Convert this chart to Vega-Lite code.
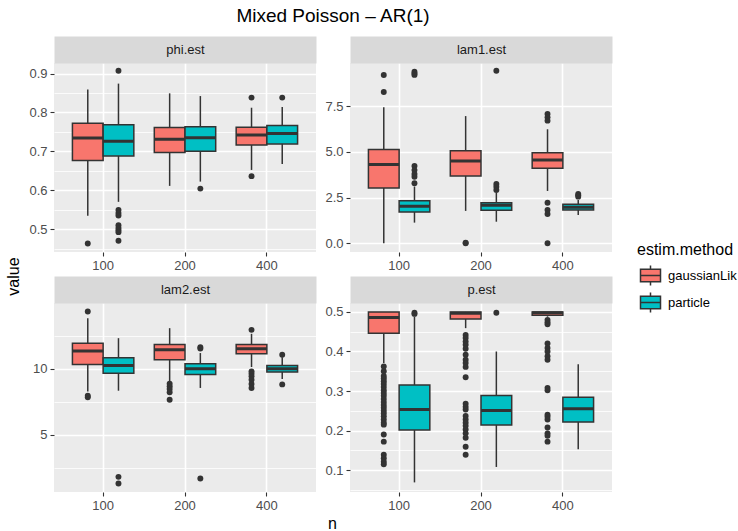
{
  "$schema": "https://vega.github.io/schema/vega-lite/v6.json",
  "padding": {"left": 5, "top": 6, "right": 0, "bottom": 0},
  "title": {"text": "Mixed Poisson – AR(1)", "anchor": "start", "frame": "group", "align": "center", "dx": 279, "fontSize": 19, "fontWeight": "normal", "color": "#000000", "offset": 3, "baseline": "alphabetic"},
  "datasets": {
    "boxes": [
      {"panel": "phi.est", "n": "100", "method": "gaussianLik", "lower": 0.534, "q1": 0.676, "median": 0.734, "q3": 0.772, "upper": 0.859},
      {"panel": "phi.est", "n": "100", "method": "particle", "lower": 0.570, "q1": 0.688, "median": 0.726, "q3": 0.768, "upper": 0.874},
      {"panel": "phi.est", "n": "200", "method": "gaussianLik", "lower": 0.611, "q1": 0.697, "median": 0.731, "q3": 0.761, "upper": 0.849},
      {"panel": "phi.est", "n": "200", "method": "particle", "lower": 0.622, "q1": 0.700, "median": 0.735, "q3": 0.763, "upper": 0.842},
      {"panel": "phi.est", "n": "400", "method": "gaussianLik", "lower": 0.652, "q1": 0.716, "median": 0.742, "q3": 0.762, "upper": 0.812},
      {"panel": "phi.est", "n": "400", "method": "particle", "lower": 0.667, "q1": 0.719, "median": 0.746, "q3": 0.766, "upper": 0.814},
      {"panel": "lam1.est", "n": "100", "method": "gaussianLik", "lower": 0.0, "q1": 3.02, "median": 4.30, "q3": 5.13, "upper": 7.43},
      {"panel": "lam1.est", "n": "100", "method": "particle", "lower": 1.13, "q1": 1.71, "median": 2.02, "q3": 2.33, "upper": 3.1},
      {"panel": "lam1.est", "n": "200", "method": "gaussianLik", "lower": 1.77, "q1": 3.68, "median": 4.50, "q3": 5.06, "upper": 6.95},
      {"panel": "lam1.est", "n": "200", "method": "particle", "lower": 1.18, "q1": 1.80, "median": 2.08, "q3": 2.22, "upper": 2.75},
      {"panel": "lam1.est", "n": "400", "method": "gaussianLik", "lower": 2.86, "q1": 4.10, "median": 4.55, "q3": 4.95, "upper": 6.23},
      {"panel": "lam1.est", "n": "400", "method": "particle", "lower": 1.55, "q1": 1.82, "median": 1.97, "q3": 2.13, "upper": 2.37},
      {"panel": "lam2.est", "n": "100", "method": "gaussianLik", "lower": 8.28, "q1": 10.33, "median": 11.34, "q3": 11.94, "upper": 13.84},
      {"panel": "lam2.est", "n": "100", "method": "particle", "lower": 8.33, "q1": 9.65, "median": 10.25, "q3": 10.83, "upper": 12.32},
      {"panel": "lam2.est", "n": "200", "method": "gaussianLik", "lower": 9.04, "q1": 10.68, "median": 11.44, "q3": 11.84, "upper": 13.08},
      {"panel": "lam2.est", "n": "200", "method": "particle", "lower": 8.54, "q1": 9.57, "median": 10.0, "q3": 10.38, "upper": 11.19},
      {"panel": "lam2.est", "n": "400", "method": "gaussianLik", "lower": 10.13, "q1": 11.14, "median": 11.52, "q3": 11.84, "upper": 12.65},
      {"panel": "lam2.est", "n": "400", "method": "particle", "lower": 9.22, "q1": 9.75, "median": 10.0, "q3": 10.25, "upper": 10.88},
      {"panel": "p.est", "n": "100", "method": "gaussianLik", "lower": 0.371, "q1": 0.446, "median": 0.486, "q3": 0.5, "upper": 0.5},
      {"panel": "p.est", "n": "100", "method": "particle", "lower": 0.069, "q1": 0.2015, "median": 0.253, "q3": 0.3155, "upper": 0.488},
      {"panel": "p.est", "n": "200", "method": "gaussianLik", "lower": 0.459, "q1": 0.482, "median": 0.4966, "q3": 0.5, "upper": 0.5},
      {"panel": "p.est", "n": "200", "method": "particle", "lower": 0.108, "q1": 0.214, "median": 0.251, "q3": 0.289, "upper": 0.400},
      {"panel": "p.est", "n": "400", "method": "gaussianLik", "lower": 0.488, "q1": 0.4916, "median": 0.498, "q3": 0.5, "upper": 0.5},
      {"panel": "p.est", "n": "400", "method": "particle", "lower": 0.153, "q1": 0.2216, "median": 0.255, "q3": 0.2845, "upper": 0.368}
    ],
    "outliers": [
      {"panel": "phi.est", "n": "100", "method": "gaussianLik", "value": 0.463},
      {"panel": "phi.est", "n": "100", "method": "particle", "value": 0.907},
      {"panel": "phi.est", "n": "100", "method": "particle", "value": 0.549},
      {"panel": "phi.est", "n": "100", "method": "particle", "value": 0.541},
      {"panel": "phi.est", "n": "100", "method": "particle", "value": 0.535},
      {"panel": "phi.est", "n": "100", "method": "particle", "value": 0.510},
      {"panel": "phi.est", "n": "100", "method": "particle", "value": 0.503},
      {"panel": "phi.est", "n": "100", "method": "particle", "value": 0.497},
      {"panel": "phi.est", "n": "100", "method": "particle", "value": 0.492},
      {"panel": "phi.est", "n": "100", "method": "particle", "value": 0.470},
      {"panel": "phi.est", "n": "200", "method": "particle", "value": 0.604},
      {"panel": "phi.est", "n": "400", "method": "gaussianLik", "value": 0.838},
      {"panel": "phi.est", "n": "400", "method": "gaussianLik", "value": 0.636},
      {"panel": "phi.est", "n": "400", "method": "particle", "value": 0.838},
      {"panel": "lam1.est", "n": "100", "method": "gaussianLik", "value": 9.19},
      {"panel": "lam1.est", "n": "100", "method": "gaussianLik", "value": 8.27},
      {"panel": "lam1.est", "n": "100", "method": "particle", "value": 9.37},
      {"panel": "lam1.est", "n": "100", "method": "particle", "value": 9.28},
      {"panel": "lam1.est", "n": "100", "method": "particle", "value": 9.20},
      {"panel": "lam1.est", "n": "100", "method": "particle", "value": 4.22},
      {"panel": "lam1.est", "n": "100", "method": "particle", "value": 4.0},
      {"panel": "lam1.est", "n": "100", "method": "particle", "value": 3.79},
      {"panel": "lam1.est", "n": "100", "method": "particle", "value": 3.64},
      {"panel": "lam1.est", "n": "100", "method": "particle", "value": 3.28},
      {"panel": "lam1.est", "n": "200", "method": "gaussianLik", "value": 0.0},
      {"panel": "lam1.est", "n": "200", "method": "gaussianLik", "value": 0.03},
      {"panel": "lam1.est", "n": "200", "method": "particle", "value": 9.43},
      {"panel": "lam1.est", "n": "200", "method": "particle", "value": 3.24},
      {"panel": "lam1.est", "n": "200", "method": "particle", "value": 3.09},
      {"panel": "lam1.est", "n": "200", "method": "particle", "value": 2.91},
      {"panel": "lam1.est", "n": "400", "method": "gaussianLik", "value": 7.06},
      {"panel": "lam1.est", "n": "400", "method": "gaussianLik", "value": 6.88},
      {"panel": "lam1.est", "n": "400", "method": "gaussianLik", "value": 6.70},
      {"panel": "lam1.est", "n": "400", "method": "gaussianLik", "value": 2.22},
      {"panel": "lam1.est", "n": "400", "method": "gaussianLik", "value": 1.82},
      {"panel": "lam1.est", "n": "400", "method": "gaussianLik", "value": 1.60},
      {"panel": "lam1.est", "n": "400", "method": "gaussianLik", "value": 0.0},
      {"panel": "lam1.est", "n": "400", "method": "particle", "value": 2.69},
      {"panel": "lam1.est", "n": "400", "method": "particle", "value": 2.62},
      {"panel": "lam1.est", "n": "400", "method": "particle", "value": 2.55},
      {"panel": "lam2.est", "n": "100", "method": "gaussianLik", "value": 14.34},
      {"panel": "lam2.est", "n": "100", "method": "gaussianLik", "value": 7.95},
      {"panel": "lam2.est", "n": "100", "method": "gaussianLik", "value": 7.83},
      {"panel": "lam2.est", "n": "100", "method": "particle", "value": 1.79},
      {"panel": "lam2.est", "n": "100", "method": "particle", "value": 1.29},
      {"panel": "lam2.est", "n": "200", "method": "gaussianLik", "value": 8.86},
      {"panel": "lam2.est", "n": "200", "method": "gaussianLik", "value": 8.66},
      {"panel": "lam2.est", "n": "200", "method": "gaussianLik", "value": 8.46},
      {"panel": "lam2.est", "n": "200", "method": "gaussianLik", "value": 8.21},
      {"panel": "lam2.est", "n": "200", "method": "gaussianLik", "value": 7.65},
      {"panel": "lam2.est", "n": "200", "method": "particle", "value": 11.64},
      {"panel": "lam2.est", "n": "200", "method": "particle", "value": 11.54},
      {"panel": "lam2.est", "n": "200", "method": "particle", "value": 1.67},
      {"panel": "lam2.est", "n": "400", "method": "gaussianLik", "value": 12.95},
      {"panel": "lam2.est", "n": "400", "method": "gaussianLik", "value": 9.80},
      {"panel": "lam2.est", "n": "400", "method": "gaussianLik", "value": 9.62},
      {"panel": "lam2.est", "n": "400", "method": "gaussianLik", "value": 9.42},
      {"panel": "lam2.est", "n": "400", "method": "gaussianLik", "value": 9.17},
      {"panel": "lam2.est", "n": "400", "method": "gaussianLik", "value": 8.84},
      {"panel": "lam2.est", "n": "400", "method": "gaussianLik", "value": 8.54},
      {"panel": "lam2.est", "n": "400", "method": "particle", "value": 11.06},
      {"panel": "lam2.est", "n": "400", "method": "particle", "value": 8.81},
      {"panel": "p.est", "n": "100", "method": "gaussianLik", "value": 0.362},
      {"panel": "p.est", "n": "100", "method": "gaussianLik", "value": 0.350},
      {"panel": "p.est", "n": "100", "method": "gaussianLik", "value": 0.338},
      {"panel": "p.est", "n": "100", "method": "gaussianLik", "value": 0.332},
      {"panel": "p.est", "n": "100", "method": "gaussianLik", "value": 0.325},
      {"panel": "p.est", "n": "100", "method": "gaussianLik", "value": 0.318},
      {"panel": "p.est", "n": "100", "method": "gaussianLik", "value": 0.310},
      {"panel": "p.est", "n": "100", "method": "gaussianLik", "value": 0.302},
      {"panel": "p.est", "n": "100", "method": "gaussianLik", "value": 0.295},
      {"panel": "p.est", "n": "100", "method": "gaussianLik", "value": 0.288},
      {"panel": "p.est", "n": "100", "method": "gaussianLik", "value": 0.280},
      {"panel": "p.est", "n": "100", "method": "gaussianLik", "value": 0.272},
      {"panel": "p.est", "n": "100", "method": "gaussianLik", "value": 0.265},
      {"panel": "p.est", "n": "100", "method": "gaussianLik", "value": 0.258},
      {"panel": "p.est", "n": "100", "method": "gaussianLik", "value": 0.250},
      {"panel": "p.est", "n": "100", "method": "gaussianLik", "value": 0.243},
      {"panel": "p.est", "n": "100", "method": "gaussianLik", "value": 0.236},
      {"panel": "p.est", "n": "100", "method": "gaussianLik", "value": 0.228},
      {"panel": "p.est", "n": "100", "method": "gaussianLik", "value": 0.220},
      {"panel": "p.est", "n": "100", "method": "gaussianLik", "value": 0.215},
      {"panel": "p.est", "n": "100", "method": "gaussianLik", "value": 0.190},
      {"panel": "p.est", "n": "100", "method": "gaussianLik", "value": 0.172},
      {"panel": "p.est", "n": "100", "method": "gaussianLik", "value": 0.139},
      {"panel": "p.est", "n": "100", "method": "gaussianLik", "value": 0.130},
      {"panel": "p.est", "n": "100", "method": "gaussianLik", "value": 0.121},
      {"panel": "p.est", "n": "100", "method": "gaussianLik", "value": 0.115},
      {"panel": "p.est", "n": "100", "method": "particle", "value": 0.498},
      {"panel": "p.est", "n": "100", "method": "particle", "value": 0.495},
      {"panel": "p.est", "n": "200", "method": "gaussianLik", "value": 0.442},
      {"panel": "p.est", "n": "200", "method": "gaussianLik", "value": 0.434},
      {"panel": "p.est", "n": "200", "method": "gaussianLik", "value": 0.425},
      {"panel": "p.est", "n": "200", "method": "gaussianLik", "value": 0.417},
      {"panel": "p.est", "n": "200", "method": "gaussianLik", "value": 0.407},
      {"panel": "p.est", "n": "200", "method": "gaussianLik", "value": 0.392},
      {"panel": "p.est", "n": "200", "method": "gaussianLik", "value": 0.379},
      {"panel": "p.est", "n": "200", "method": "gaussianLik", "value": 0.371},
      {"panel": "p.est", "n": "200", "method": "gaussianLik", "value": 0.361},
      {"panel": "p.est", "n": "200", "method": "gaussianLik", "value": 0.335},
      {"panel": "p.est", "n": "200", "method": "gaussianLik", "value": 0.268},
      {"panel": "p.est", "n": "200", "method": "gaussianLik", "value": 0.260},
      {"panel": "p.est", "n": "200", "method": "gaussianLik", "value": 0.2535},
      {"panel": "p.est", "n": "200", "method": "gaussianLik", "value": 0.237},
      {"panel": "p.est", "n": "200", "method": "gaussianLik", "value": 0.228},
      {"panel": "p.est", "n": "200", "method": "gaussianLik", "value": 0.220},
      {"panel": "p.est", "n": "200", "method": "gaussianLik", "value": 0.212},
      {"panel": "p.est", "n": "200", "method": "gaussianLik", "value": 0.203},
      {"panel": "p.est", "n": "200", "method": "gaussianLik", "value": 0.193},
      {"panel": "p.est", "n": "200", "method": "gaussianLik", "value": 0.182},
      {"panel": "p.est", "n": "200", "method": "gaussianLik", "value": 0.159},
      {"panel": "p.est", "n": "200", "method": "gaussianLik", "value": 0.139},
      {"panel": "p.est", "n": "200", "method": "particle", "value": 0.498},
      {"panel": "p.est", "n": "400", "method": "gaussianLik", "value": 0.480},
      {"panel": "p.est", "n": "400", "method": "gaussianLik", "value": 0.474},
      {"panel": "p.est", "n": "400", "method": "gaussianLik", "value": 0.469},
      {"panel": "p.est", "n": "400", "method": "gaussianLik", "value": 0.420},
      {"panel": "p.est", "n": "400", "method": "gaussianLik", "value": 0.409},
      {"panel": "p.est", "n": "400", "method": "gaussianLik", "value": 0.400},
      {"panel": "p.est", "n": "400", "method": "gaussianLik", "value": 0.388},
      {"panel": "p.est", "n": "400", "method": "gaussianLik", "value": 0.379},
      {"panel": "p.est", "n": "400", "method": "gaussianLik", "value": 0.308},
      {"panel": "p.est", "n": "400", "method": "gaussianLik", "value": 0.302},
      {"panel": "p.est", "n": "400", "method": "gaussianLik", "value": 0.240},
      {"panel": "p.est", "n": "400", "method": "gaussianLik", "value": 0.235},
      {"panel": "p.est", "n": "400", "method": "gaussianLik", "value": 0.228},
      {"panel": "p.est", "n": "400", "method": "gaussianLik", "value": 0.208},
      {"panel": "p.est", "n": "400", "method": "gaussianLik", "value": 0.193},
      {"panel": "p.est", "n": "400", "method": "gaussianLik", "value": 0.187},
      {"panel": "p.est", "n": "400", "method": "gaussianLik", "value": 0.172}
    ]
  },
  "columns": 2,
  "spacing": {"row": 51, "column": 34},
  "bounds": "flush",
  "concat": [
    {
      "width": 262, "height": 189,
      "resolve": {"axis": {"x": "independent", "y": "independent"}},
      "layer": [
        {"data": {"name": "boxes"}, "transform": [{"filter": "datum.panel == 'phi.est'"}],
         "mark": {"type": "rule", "color": "#333333", "strokeWidth": 1.5},
         "encoding": {
           "x": {"field": "n", "type": "nominal", "scale": {"domain": ["100", "200", "400"], "paddingInner": 0.25, "paddingOuter": 0.225},
                 "axis": {"orient": "top", "grid": false, "ticks": false, "labels": false, "domain": true, "domainColor": "#D9D9D9", "domainWidth": 27, "offset": 13.5, "title": "phi.est", "titleFontSize": 13, "titleColor": "#1A1A1A", "titleBaseline": "middle", "titleY": 0, "titleX": 131}},
           "xOffset": {"field": "method", "type": "nominal", "scale": {"domain": ["gaussianLik", "particle"], "paddingInner": 0, "paddingOuter": 0}},
           "y": {"field": "lower", "type": "quantitative", "scale": {"domain": [0.441, 0.927], "nice": false, "zero": false},
                 "axis": {"orient": "left", "title": null, "grid": true, "gridWidth": 1.6, "values": [0.5, 0.6, 0.7, 0.8, 0.9], "format": ".1f"}},
           "y2": {"field": "upper"}
         }},
        {"data": {"name": "boxes"}, "transform": [{"filter": "datum.panel == 'phi.est'"}],
         "mark": {"type": "bar", "stroke": "#333333", "strokeWidth": 1.5},
         "encoding": {
           "x": {"field": "n", "type": "nominal", "axis": {"orient": "bottom", "title": null, "grid": true, "bandPosition": 0.5, "labelAngle": 0}},
           "xOffset": {"field": "method", "type": "nominal"},
           "y": {"field": "q1", "type": "quantitative",
                 "axis": {"orient": "left", "title": null, "grid": true, "gridWidth": 0.8, "labels": false, "ticks": false, "values": [0.45, 0.55, 0.65, 0.75, 0.85]}},
           "y2": {"field": "q3"},
           "color": {"field": "method", "type": "nominal", "scale": {"domain": ["gaussianLik", "particle"], "range": ["#F8766D", "#00BFC4"]},
                     "legend": {"title": "estim.method", "orient": "none", "legendX": 583, "legendY": 179,
                                "symbolType": "M-0.8,-0.5H0.8V0.5H-0.8Z M0,-0.8V-0.5 M0,0.5V0.8 M-0.8,0H0.8",
                                "symbolSize": 625, "symbolStrokeColor": "#333333", "symbolStrokeWidth": 1.5, "symbolOpacity": 1}}
         }},
        {"data": {"name": "boxes"}, "transform": [{"filter": "datum.panel == 'phi.est'"}],
         "mark": {"type": "bar", "fill": "transparent", "stroke": "#333333", "strokeWidth": 3},
         "encoding": {
           "x": {"field": "n", "type": "nominal", "axis": null},
           "xOffset": {"field": "method", "type": "nominal"},
           "y": {"field": "median", "type": "quantitative", "axis": null},
           "y2": {"field": "median"}
         }},
        {"data": {"name": "outliers"}, "transform": [{"filter": "datum.panel == 'phi.est'"}],
         "mark": {"type": "point", "filled": true, "color": "#333333", "size": 35, "opacity": 1},
         "encoding": {
           "x": {"field": "n", "type": "nominal", "axis": null},
           "xOffset": {"field": "method", "type": "nominal"},
           "y": {"field": "value", "type": "quantitative", "axis": null}
         }}
      ]
    },
    {
      "width": 262, "height": 189,
      "resolve": {"axis": {"x": "independent"}},
      "layer": [
        {"data": {"name": "boxes"}, "transform": [{"filter": "datum.panel == 'lam1.est'"}],
         "mark": {"type": "rule", "color": "#333333", "strokeWidth": 1.5},
         "encoding": {
           "x": {"field": "n", "type": "nominal", "scale": {"domain": ["100", "200", "400"], "paddingInner": 0.25, "paddingOuter": 0.225},
                 "axis": {"orient": "top", "grid": false, "ticks": false, "labels": false, "domain": true, "domainColor": "#D9D9D9", "domainWidth": 27, "offset": 13.5, "title": "lam1.est", "titleFontSize": 13, "titleColor": "#1A1A1A", "titleBaseline": "middle", "titleY": 0, "titleX": 131}},
           "xOffset": {"field": "method", "type": "nominal", "scale": {"domain": ["gaussianLik", "particle"], "paddingInner": 0, "paddingOuter": 0}},
           "y": {"field": "lower", "type": "quantitative", "scale": {"domain": [-0.475, 9.85], "nice": false, "zero": false},
                 "axis": {"title": null, "grid": true, "labelOverlap": false, "values": [0, 1.25, 2.5, 3.75, 5, 6.25, 7.5, 8.75], "format": ".1f",
                          "labelExpr": "datum.value % 2.5 == 0 ? datum.label : ''",
                          "gridWidth": {"condition": {"test": "datum.value % 2.5 == 0", "value": 1.6}, "value": 0.8},
                          "tickOpacity": {"condition": {"test": "datum.value % 2.5 == 0", "value": 1}, "value": 0}}},
           "y2": {"field": "upper"}
         }},
        {"data": {"name": "boxes"}, "transform": [{"filter": "datum.panel == 'lam1.est'"}],
         "mark": {"type": "bar", "stroke": "#333333", "strokeWidth": 1.5},
         "encoding": {
           "x": {"field": "n", "type": "nominal", "axis": {"orient": "bottom", "title": null, "grid": true, "bandPosition": 0.5, "labelAngle": 0}},
           "xOffset": {"field": "method", "type": "nominal"},
           "y": {"field": "q1", "type": "quantitative"},
           "y2": {"field": "q3"},
           "color": {"field": "method", "type": "nominal"}
         }},
        {"data": {"name": "boxes"}, "transform": [{"filter": "datum.panel == 'lam1.est'"}],
         "mark": {"type": "bar", "fill": "transparent", "stroke": "#333333", "strokeWidth": 3},
         "encoding": {
           "x": {"field": "n", "type": "nominal", "axis": null},
           "xOffset": {"field": "method", "type": "nominal"},
           "y": {"field": "median", "type": "quantitative"},
           "y2": {"field": "median"}
         }},
        {"data": {"name": "outliers"}, "transform": [{"filter": "datum.panel == 'lam1.est'"}],
         "mark": {"type": "point", "filled": true, "color": "#333333", "size": 35, "opacity": 1},
         "encoding": {
           "x": {"field": "n", "type": "nominal", "axis": null},
           "xOffset": {"field": "method", "type": "nominal"},
           "y": {"field": "value", "type": "quantitative"}
         }}
      ]
    },
    {
      "width": 262, "height": 189,
      "resolve": {"axis": {"x": "independent"}},
      "layer": [
        {"data": {"name": "boxes"}, "transform": [{"filter": "datum.panel == 'lam2.est'"}],
         "mark": {"type": "rule", "color": "#333333", "strokeWidth": 1.5},
         "encoding": {
           "x": {"field": "n", "type": "nominal", "scale": {"domain": ["100", "200", "400"], "paddingInner": 0.25, "paddingOuter": 0.225},
                 "axis": {"orient": "top", "grid": false, "ticks": false, "labels": false, "domain": true, "domainColor": "#D9D9D9", "domainWidth": 27, "offset": 13.5, "title": "lam2.est", "titleFontSize": 13, "titleColor": "#1A1A1A", "titleBaseline": "middle", "titleY": 0, "titleX": 131}},
           "xOffset": {"field": "method", "type": "nominal", "scale": {"domain": ["gaussianLik", "particle"], "paddingInner": 0, "paddingOuter": 0}},
           "y": {"field": "lower", "type": "quantitative", "scale": {"domain": [0.64, 14.99], "nice": false, "zero": false},
                 "axis": {"title": "value", "grid": true, "labelOverlap": false, "titleX": -36, "titleY": -27, "titleAngle": -90, "titleAlign": "center", "titleBaseline": "alphabetic", "titleFontSize": 16,
                          "values": [2.5, 5, 7.5, 10, 12.5], "format": "d",
                          "labelExpr": "datum.value % 5 == 0 ? datum.label : ''",
                          "gridWidth": {"condition": {"test": "datum.value % 5 == 0", "value": 1.6}, "value": 0.8},
                          "tickOpacity": {"condition": {"test": "datum.value % 5 == 0", "value": 1}, "value": 0}}},
           "y2": {"field": "upper"}
         }},
        {"data": {"name": "boxes"}, "transform": [{"filter": "datum.panel == 'lam2.est'"}],
         "mark": {"type": "bar", "stroke": "#333333", "strokeWidth": 1.5},
         "encoding": {
           "x": {"field": "n", "type": "nominal", "axis": {"orient": "bottom", "title": null, "grid": true, "bandPosition": 0.5, "labelAngle": 0}},
           "xOffset": {"field": "method", "type": "nominal"},
           "y": {"field": "q1", "type": "quantitative"},
           "y2": {"field": "q3"},
           "color": {"field": "method", "type": "nominal"}
         }},
        {"data": {"name": "boxes"}, "transform": [{"filter": "datum.panel == 'lam2.est'"}],
         "mark": {"type": "bar", "fill": "transparent", "stroke": "#333333", "strokeWidth": 3},
         "encoding": {
           "x": {"field": "n", "type": "nominal", "axis": null},
           "xOffset": {"field": "method", "type": "nominal"},
           "y": {"field": "median", "type": "quantitative"},
           "y2": {"field": "median"}
         }},
        {"data": {"name": "outliers"}, "transform": [{"filter": "datum.panel == 'lam2.est'"}],
         "mark": {"type": "point", "filled": true, "color": "#333333", "size": 35, "opacity": 1},
         "encoding": {
           "x": {"field": "n", "type": "nominal", "axis": null},
           "xOffset": {"field": "method", "type": "nominal"},
           "y": {"field": "value", "type": "quantitative"}
         }}
      ]
    },
    {
      "width": 262, "height": 189,
      "resolve": {"axis": {"x": "independent", "y": "independent"}},
      "layer": [
        {"data": {"name": "boxes"}, "transform": [{"filter": "datum.panel == 'p.est'"}],
         "mark": {"type": "rule", "color": "#333333", "strokeWidth": 1.5},
         "encoding": {
           "x": {"field": "n", "type": "nominal", "scale": {"domain": ["100", "200", "400"], "paddingInner": 0.25, "paddingOuter": 0.225},
                 "axis": {"orient": "top", "grid": false, "ticks": false, "labels": false, "domain": true, "domainColor": "#D9D9D9", "domainWidth": 27, "offset": 13.5, "title": "p.est", "titleFontSize": 13, "titleColor": "#1A1A1A", "titleBaseline": "middle", "titleY": 0, "titleX": 131}},
           "xOffset": {"field": "method", "type": "nominal", "scale": {"domain": ["gaussianLik", "particle"], "paddingInner": 0, "paddingOuter": 0}},
           "y": {"field": "lower", "type": "quantitative", "scale": {"domain": [0.0447, 0.5226], "nice": false, "zero": false},
                 "axis": {"orient": "left", "title": null, "grid": true, "gridWidth": 1.6, "values": [0.1, 0.2, 0.3, 0.4, 0.5], "format": ".1f"}},
           "y2": {"field": "upper"}
         }},
        {"data": {"name": "boxes"}, "transform": [{"filter": "datum.panel == 'p.est'"}],
         "mark": {"type": "bar", "stroke": "#333333", "strokeWidth": 1.5},
         "encoding": {
           "x": {"field": "n", "type": "nominal", "axis": {"orient": "bottom", "title": "n", "titleX": -18, "titleY": 36, "titleBaseline": "alphabetic", "titleFontSize": 16, "grid": true, "bandPosition": 0.5, "labelAngle": 0}},
           "xOffset": {"field": "method", "type": "nominal"},
           "y": {"field": "q1", "type": "quantitative",
                 "axis": {"orient": "left", "title": null, "grid": true, "gridWidth": 0.8, "labels": false, "ticks": false, "values": [0.05, 0.15, 0.25, 0.35, 0.45]}},
           "y2": {"field": "q3"},
           "color": {"field": "method", "type": "nominal"}
         }},
        {"data": {"name": "boxes"}, "transform": [{"filter": "datum.panel == 'p.est'"}],
         "mark": {"type": "bar", "fill": "transparent", "stroke": "#333333", "strokeWidth": 3},
         "encoding": {
           "x": {"field": "n", "type": "nominal", "axis": null},
           "xOffset": {"field": "method", "type": "nominal"},
           "y": {"field": "median", "type": "quantitative", "axis": null},
           "y2": {"field": "median"}
         }},
        {"data": {"name": "outliers"}, "transform": [{"filter": "datum.panel == 'p.est'"}],
         "mark": {"type": "point", "filled": true, "color": "#333333", "size": 35, "opacity": 1},
         "encoding": {
           "x": {"field": "n", "type": "nominal", "axis": null},
           "xOffset": {"field": "method", "type": "nominal"},
           "y": {"field": "value", "type": "quantitative", "axis": null}
         }}
      ]
    }
  ],
  "config": {
    "font": "Liberation Sans",
    "view": {"fill": "#EBEBEB", "stroke": null},
    "axis": {"gridColor": "#FFFFFF", "gridWidth": 1.6, "domain": false, "tickColor": "#333333", "tickSize": 4, "tickWidth": 1.1, "labelColor": "#4D4D4D", "labelFontSize": 13, "labelPadding": 3, "titleFontWeight": "normal", "titleColor": "#000000", "titleFontSize": 16},
    "legend": {"titleFontSize": 16, "titleFontWeight": "normal", "titleColor": "#000000", "labelFontSize": 13, "labelColor": "#000000", "rowPadding": -1, "titlePadding": 4, "labelOffset": 4}
  }
}
